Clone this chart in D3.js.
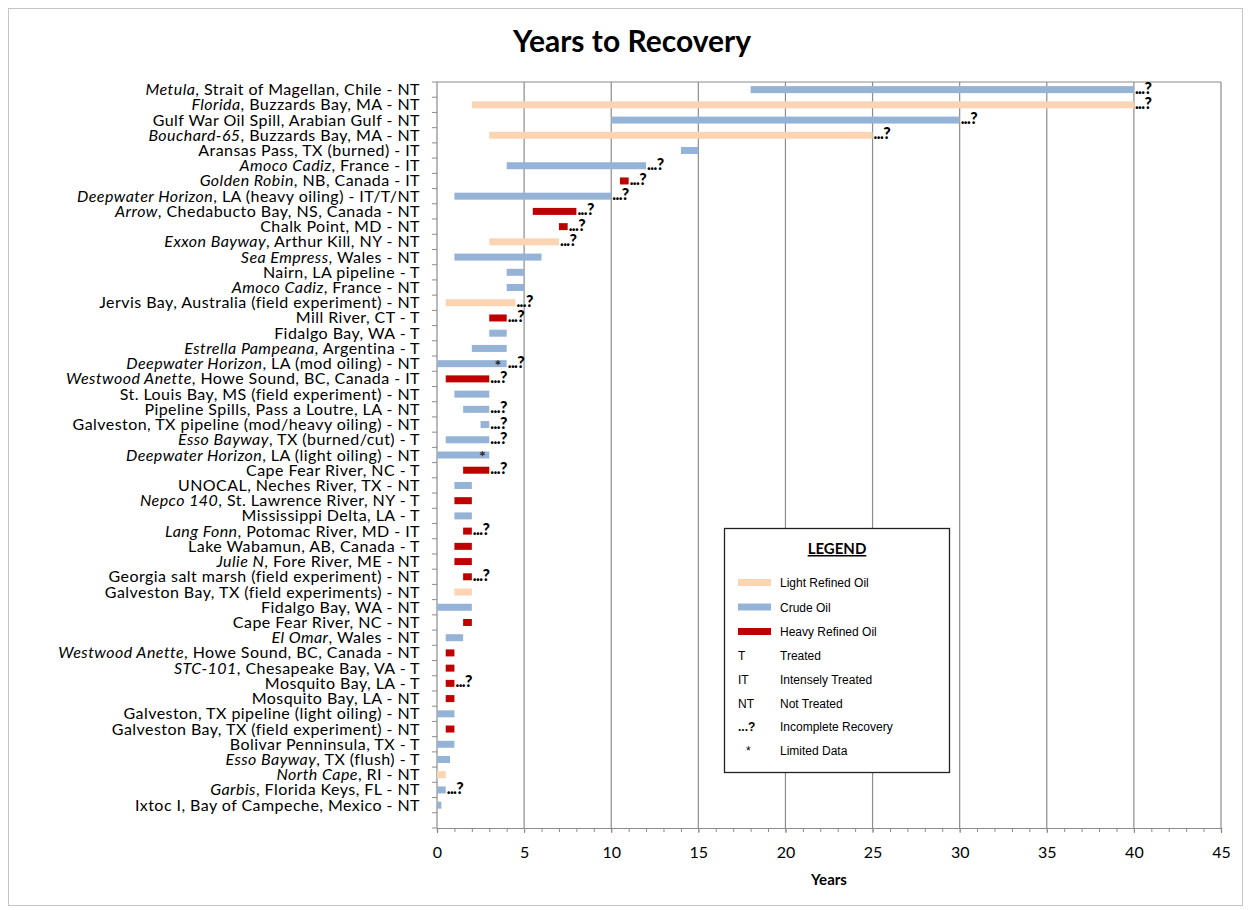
<!DOCTYPE html>
<html>
<head>
<meta charset="utf-8">
<script src="https://cdn.jsdelivr.net/npm/d3@7"></script>
<style>
  body { margin: 0; background: #fff; }
  svg text { font-family: Lato, "Open Sans", sans-serif; }
</style>
</head>
<body>
<div id="chart"></div>
<script>
// italic part of each label (vessel name), then the rest of the label
var vessels = ["Metula", "Florida", "", "Bouchard-65", "", "Amoco Cadiz", "Golden Robin",
  "Deepwater Horizon", "Arrow", "", "Exxon Bayway", "Sea Empress", "", "Amoco Cadiz", "", "", "",
  "Estrella Pampeana", "Deepwater Horizon", "Westwood Anette", "", "", "", "Esso Bayway",
  "Deepwater Horizon", "", "", "Nepco 140", "", "Lang Fonn", "", "Julie N", "", "", "", "",
  "El Omar", "Westwood Anette", "STC-101", "", "", "", "", "", "Esso Bayway", "North Cape",
  "Garbis", ""];
var places = [", Strait of Magellan, Chile - NT", ", Buzzards Bay, MA - NT",
  "Gulf War Oil Spill, Arabian Gulf - NT", ", Buzzards Bay, MA - NT",
  "Aransas Pass, TX (burned) - IT", ", France - IT", ", NB, Canada - IT",
  ", LA (heavy oiling) - IT/T/NT", ", Chedabucto Bay, NS, Canada - NT", "Chalk Point, MD - NT",
  ", Arthur Kill, NY - NT", ", Wales - NT", "Nairn, LA pipeline - T", ", France - NT",
  "Jervis Bay, Australia (field experiment) - NT", "Mill River, CT - T", "Fidalgo Bay, WA - T",
  ", Argentina - T", ", LA (mod oiling) - NT", ", Howe Sound, BC, Canada - IT",
  "St. Louis Bay, MS (field experiment) - NT", "Pipeline Spills, Pass a Loutre, LA - NT",
  "Galveston, TX pipeline (mod/heavy oiling) - NT", ", TX (burned/cut) - T",
  ", LA (light oiling) - NT", "Cape Fear River, NC - T", "UNOCAL, Neches River, TX - NT",
  ", St. Lawrence River, NY - T", "Mississippi Delta, LA - T", ", Potomac River, MD - IT",
  "Lake Wabamun, AB, Canada - T", ", Fore River, ME - NT",
  "Georgia salt marsh (field experiment) - NT", "Galveston Bay, TX (field experiments) - NT",
  "Fidalgo Bay, WA - NT", "Cape Fear River, NC - NT", ", Wales - NT",
  ", Howe Sound, BC, Canada - NT", ", Chesapeake Bay, VA - T", "Mosquito Bay, LA - T",
  "Mosquito Bay, LA - NT", "Galveston, TX pipeline (light oiling) - NT",
  "Galveston Bay, TX (field experiment) - NT", "Bolivar Penninsula, TX - T", ", TX (flush) - T",
  ", RI - NT", ", Florida Keys, FL - NT", "Ixtoc I, Bay of Campeche, Mexico - NT"];

var startYr = [18, 2, 10, 3, 14, 4, 10.5, 1, 5.5, 7, 3, 1, 4, 4, 0.5, 3, 3, 2, 0, 0.5, 1, 1.5, 2.5, 0.5,
  0, 1.5, 1, 1, 1, 1.5, 1, 1, 1.5, 1, 0, 1.5, 0.5, 0.5, 0.5, 0.5, 0.5, 0, 0.5, 0, 0, 0, 0, 0];
var endYr = [40, 40, 30, 25, 15, 12, 11, 10, 8, 7.5, 7, 6, 5, 5, 4.5, 4, 4, 4, 4, 3, 3, 3, 3, 3,
  3, 3, 2, 2, 2, 2, 2, 2, 2, 2, 2, 2, 1.5, 1, 1, 1, 1, 1, 1, 1, 0.75, 0.5, 0.5, 0.25];
// L = light refined, C = crude, H = heavy refined
var oilType = ["C", "L", "C", "L", "C", "C", "H", "C", "H", "H", "L", "C", "C", "C", "L", "H", "C", "C",
  "C", "H", "C", "C", "C", "C", "C", "H", "C", "H", "C", "H", "H", "H", "H", "L", "C", "H", "C", "H",
  "H", "H", "H", "C", "H", "C", "C", "L", "C", "C"];
var incomplete = [1, 1, 1, 1, 0, 1, 1, 1, 1, 1, 1, 0, 0, 0, 1, 1, 0, 0, 1, 1, 0, 1, 1, 1,
  0, 1, 0, 0, 0, 1, 0, 0, 1, 0, 0, 0, 0, 0, 0, 1, 0, 0, 0, 0, 0, 0, 1, 0];
var limitedData = [[18, 3.5], [24, 2.6]]; // [row index, year where * sits]

var oilNames = { L: "Light Refined Oil", C: "Crude Oil", H: "Heavy Refined Oil" };
var oilColors = { L: "#FBD4B4", C: "#95B3D7", H: "#C00000" };
var legendCodes = [["T", "Treated"], ["IT", "Intensely Treated"], ["NT", "Not Treated"],
  ["...?", "Incomplete Recovery"], ["*", "Limited Data"]];

var W = 1250, H = 910;
var svg = d3.select("#chart").append("svg").attr("width", W).attr("height", H);

svg.append("rect").attr("x", 8.5).attr("y", 8.5).attr("width", 1234).attr("height", 897)
  .attr("fill", "#fff").attr("stroke", "#c4c4c4");

var plotL = 437, plotR = 1221, plotT = 82, plotB = 828;
var x = d3.scaleLinear().domain([0, 45]).range([plotL, plotR]);
// one spare slot at the bottom, like the Excel original
var y = d3.scaleBand().domain(d3.range(vessels.length + 1)).range([plotT, plotB]);
var bh = y.bandwidth();

// gridlines
svg.append("g").selectAll("line").data(d3.range(5, 46, 5)).enter().append("line")
  .attr("x1", function (d) { return x(d); }).attr("x2", function (d) { return x(d); })
  .attr("y1", plotT).attr("y2", plotB).attr("stroke", "#8c8c8c").attr("stroke-width", 1.2);
svg.append("line").attr("x1", plotL).attr("x2", plotR).attr("y1", plotT).attr("y2", plotT)
  .attr("stroke", "#8c8c8c").attr("stroke-width", 1.2);

// x axis, major and minor ticks
var xMinor = svg.append("g").attr("transform", "translate(0," + plotB + ")")
  .call(d3.axisBottom(x).tickValues(d3.range(0, 46, 1)).tickSize(4).tickFormat(""));
var xAxis = svg.append("g").attr("transform", "translate(0," + plotB + ")")
  .call(d3.axisBottom(x).tickValues(d3.range(0, 46, 5)).tickSize(5).tickPadding(14));
xAxis.selectAll("text").attr("font-size", 16).attr("fill", "#000")
  .style("font-family", "Lato, sans-serif");
[xMinor, xAxis].forEach(function (g) {
  g.select(".domain").attr("stroke", "#8c8c8c").attr("stroke-width", 1.2);
  g.selectAll(".tick line").attr("stroke", "#8c8c8c");
});

// y axis line and ticks between categories
svg.append("line").attr("x1", plotL).attr("x2", plotL).attr("y1", plotT).attr("y2", plotB)
  .attr("stroke", "#8c8c8c").attr("stroke-width", 1.2);
svg.append("g").selectAll("line").data(d3.range(vessels.length + 2)).enter().append("line")
  .attr("x1", plotL - 5).attr("x2", plotL)
  .attr("y1", function (d) { return plotT + d * bh; }).attr("y2", function (d) { return plotT + d * bh; })
  .attr("stroke", "#8c8c8c");

// category labels
var labels = svg.append("g").selectAll("text").data(d3.range(vessels.length)).enter().append("text")
  .attr("x", 420).attr("y", function (i) { return y(i) + bh / 2 + 5.5; })
  .attr("text-anchor", "end").attr("font-size", 16).attr("letter-spacing", 0.45).attr("fill", "#000");
labels.append("tspan").attr("font-style", "italic").text(function (i) { return vessels[i]; });
labels.append("tspan").text(function (i) { return places[i]; });

// bars
var rows = d3.range(vessels.length);
svg.append("g").selectAll("rect").data(rows).enter().append("rect")
  .attr("x", function (i) { return x(startYr[i]); })
  .attr("width", function (i) { return x(endYr[i]) - x(startYr[i]); })
  .attr("y", function (i) { return y(i) + bh / 2 - 3.5; })
  .attr("height", 7)
  .attr("fill", function (i) { return oilColors[oilType[i]]; });

// incomplete recovery markers
svg.append("g").selectAll("text").data(rows.filter(function (i) { return incomplete[i]; }))
  .enter().append("text")
  .attr("x", function (i) { return x(endYr[i]) + 1; })
  .attr("y", function (i) { return y(i) + bh / 2 + 4; })
  .attr("font-size", 16).attr("font-weight", "900").attr("letter-spacing", -0.6)
  .text("...?");

// limited data markers
svg.append("g").selectAll("text").data(limitedData).enter().append("text")
  .attr("x", function (d) { return x(d[1]); })
  .attr("y", function (d) { return y(d[0]) + bh / 2 + 7; })
  .attr("text-anchor", "middle").attr("font-size", 16).attr("font-weight", "bold").attr("fill", "#222")
  .text("*");

// title and axis title
svg.append("text").attr("x", 632).attr("y", 52).attr("text-anchor", "middle")
  .attr("font-size", 30).attr("font-weight", "bold").text("Years to Recovery");
svg.append("text").attr("x", 829).attr("y", 885).attr("text-anchor", "middle")
  .attr("font-size", 15).attr("font-weight", "bold").text("Years");

// legend
var lg = svg.append("g").attr("transform", "translate(724,528)");
lg.append("rect").attr("x", 0.5).attr("y", 0.5).attr("width", 225).attr("height", 244)
  .attr("fill", "#fff").attr("stroke", "#222").attr("stroke-width", 1.3);
lg.append("text").attr("x", 113).attr("y", 26).attr("text-anchor", "middle")
  .attr("font-size", 15).attr("font-weight", "bold").attr("text-decoration", "underline")
  .text("LEGEND");
var oilKeys = ["L", "C", "H"];
lg.selectAll(".sw").data(oilKeys).enter().append("rect").attr("class", "sw")
  .attr("x", 14).attr("y", function (d, i) { return 51 + i * 24.5; })
  .attr("width", 33).attr("height", 7).attr("fill", function (d) { return oilColors[d]; });
lg.selectAll(".swt").data(oilKeys).enter().append("text").attr("class", "swt")
  .attr("x", 56).attr("y", function (d, i) { return 59 + i * 24.5; })
  .attr("font-size", 12).style("font-family", "'Liberation Sans', Arial, sans-serif")
  .text(function (d) { return oilNames[d]; });
lg.selectAll(".cd").data(legendCodes).enter().append("text").attr("class", "cd")
  .attr("x", function (d) { return d[0] === "*" ? 22 : 14; })
  .attr("y", function (d, i) { return 132 + i * 23.8; })
  .attr("font-size", 12).attr("font-weight", function (d) { return d[0] === "...?" ? "bold" : "normal"; })
  .style("font-family", "'Liberation Sans', Arial, sans-serif")
  .text(function (d) { return d[0]; });
lg.selectAll(".cdt").data(legendCodes).enter().append("text").attr("class", "cdt")
  .attr("x", 56).attr("y", function (d, i) { return 132 + i * 23.8; })
  .attr("font-size", 12).style("font-family", "'Liberation Sans', Arial, sans-serif")
  .text(function (d) { return d[1]; });
</script>
</body>
</html>
